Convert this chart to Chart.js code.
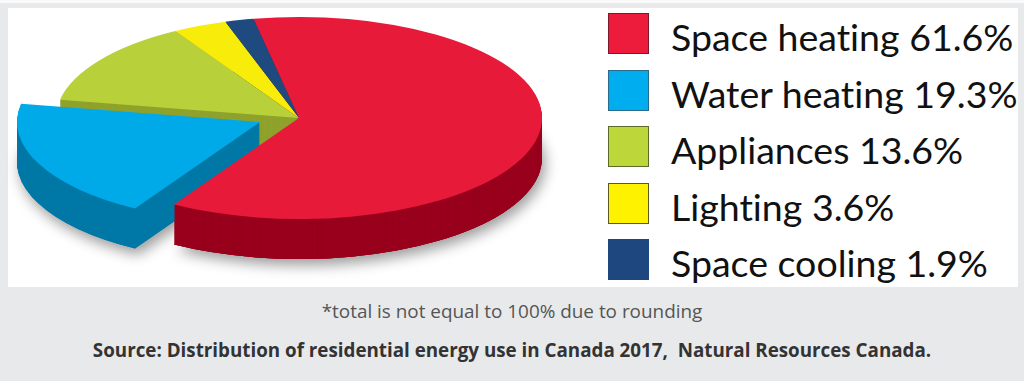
<!DOCTYPE html>
<html>
<head>
<meta charset="utf-8">
<script src="https://cdn.jsdelivr.net/npm/chart.js@4"></script>
<style>
  html, body { margin: 0; padding: 0; width: 1024px; height: 381px; overflow: hidden; background: #e8e9eb; }
  #strip { position: absolute; left: 0; top: 0; width: 1024px; height: 3px; background: #fafafa; }
  #panel { position: absolute; left: 8px; top: 8px; width: 1010px; height: 279px; background: #fff; }
  #wrap { position: absolute; left: 0; top: 0; width: 600px; height: 287px; overflow: hidden; }
  #legend { position: absolute; left: 608px; top: 13px; font-family: Lato, sans-serif; font-size: 37.5px; color: #111; font-variant-ligatures: none; }
  .row { height: 41px; margin-bottom: 15.6px; display: flex; align-items: center; white-space: pre; }
  .box { width: 39px; height: 39px; border: 1px solid; margin-right: 22px; flex: none; }
  .row span { position: relative; top: 3px; }
  .note { position: absolute; left: 0; width: 1024px; text-align: center; font-family: "Open Sans", sans-serif; white-space: pre; }
  #note1 { top: 299px; font-size: 18.9px; line-height: 24px; color: #555; }
  #note2 { top: 338px; font-size: 18.8px; line-height: 24px; font-weight: 700; color: #333; }
</style>
</head>
<body>
<div id="strip"></div>
<div id="panel"></div>
<div id="wrap"><canvas id="chart1" width="600" height="287"></canvas></div>
<div id="legend"></div>
<div class="note" id="note1"></div>
<div class="note" id="note2"></div>
<script>
// data
const categories = ['Space heating', 'Water heating', 'Appliances', 'Lighting', 'Space cooling'];
const shares = [61.6, 19.3, 13.6, 3.6, 1.9];
const footNote = '*total is not equal to 100% due to rounding';
const sourceNote = 'Source: Distribution of residential energy use in Canada 2017,  Natural Resources Canada.';

// colours
const topColors = ['#e71a3a', '#00a9e8', '#b8d13a', '#f8ec0a', '#1f4a80'];
const swatchColors = ['#ed1c3c', '#00aeef', '#bdd63a', '#fff200', '#1f477f'];
const swatchBorders = ['#7a1a2a', '#2a6a8a', '#5a6a2a', '#5a5a20', '#1f477f'];
const sideColors = ['#98001c', '#0078a6', '#8fa22c', '#b0a800', '#163660'];

// how the flat pie gets laid over to look like the 3D one
const pieX = 299, pieY = 118, pieRx = 243, pieRy = 101, pieDepth = 40;
const explodedIndex = 1, explodeX = -39, explodeY = 4;
const sideOrder = [3, 4, 0, 2, 1]; // back to front
const redFrontFrom = 170; // below this line the red side sits in front of the blue one

document.getElementById('note1').textContent = footNote;
document.getElementById('note2').textContent = sourceNote;

// legend next to the canvas
categories.forEach((name, i) => {
    const row = document.createElement('div');
    row.className = 'row';
    const box = document.createElement('div');
    box.className = 'box';
    box.style.background = swatchColors[i];
    box.style.borderColor = swatchBorders[i];
    const label = document.createElement('span');
    label.textContent = name + ' ' + shares[i] + '%';
    row.append(box, label);
    document.getElementById('legend').append(row);
});

function drawArc(ctx, arc, index, drop, fill) {
    const saved = arc.options;
    const exploded = index === explodedIndex;
    arc.options = Object.assign({}, saved, { backgroundColor: fill, borderWidth: 0 });
    ctx.save();
    ctx.translate(pieX + (exploded ? explodeX : 0), pieY + (exploded ? explodeY : 0) + drop);
    ctx.scale(pieRx / arc.outerRadius, pieRy / arc.outerRadius);
    ctx.translate(-arc.x, -arc.y);
    arc.draw(ctx);
    ctx.restore();
    arc.options = saved;
}

function drawSide(ctx, arc, index) {
    for (let d = pieDepth; d > 0; d--) {
        drawArc(ctx, arc, index, d, sideColors[index]);
    }
}

const pie3d = {
    id: 'pie3d',
    beforeDatasetsDraw(chart) {
        const ctx = chart.ctx;
        const arcs = chart.getDatasetMeta(0).data;

        // soft shadow under the whole thing
        ctx.save();
        ctx.shadowColor = 'rgba(0,0,0,0.4)';
        ctx.shadowBlur = 14;
        ctx.shadowOffsetX = 3;
        ctx.shadowOffsetY = 6;
        sideOrder.forEach(i => drawArc(ctx, arcs[i], i, pieDepth, sideColors[i]));
        ctx.restore();

        // the sides, stacked from the bottom up
        sideOrder.forEach(i => drawSide(ctx, arcs[i], i));

        // red side again over the blue one, only down in front
        ctx.save();
        ctx.beginPath();
        ctx.rect(0, redFrontFrom, chart.width, chart.height - redFrontFrom);
        ctx.clip();
        drawSide(ctx, arcs[0], 0);
        ctx.restore();

        // top faces last
        arcs.forEach((arc, i) => drawArc(ctx, arc, i, 0, topColors[i]));
        return false;
    }
};

new Chart(document.getElementById('chart1').getContext('2d'), {
    type: 'pie',
    data: {
        labels: categories,
        datasets: [{
            data: shares,
            backgroundColor: topColors,
            borderWidth: 0
        }]
    },
    options: {
        responsive: false,
        animation: false,
        rotation: -10.8,
        plugins: {
            tooltip: { enabled: false },
            legend: { display: false }
        }
    },
    plugins: [pie3d]
});
</script>
</body>
</html>
